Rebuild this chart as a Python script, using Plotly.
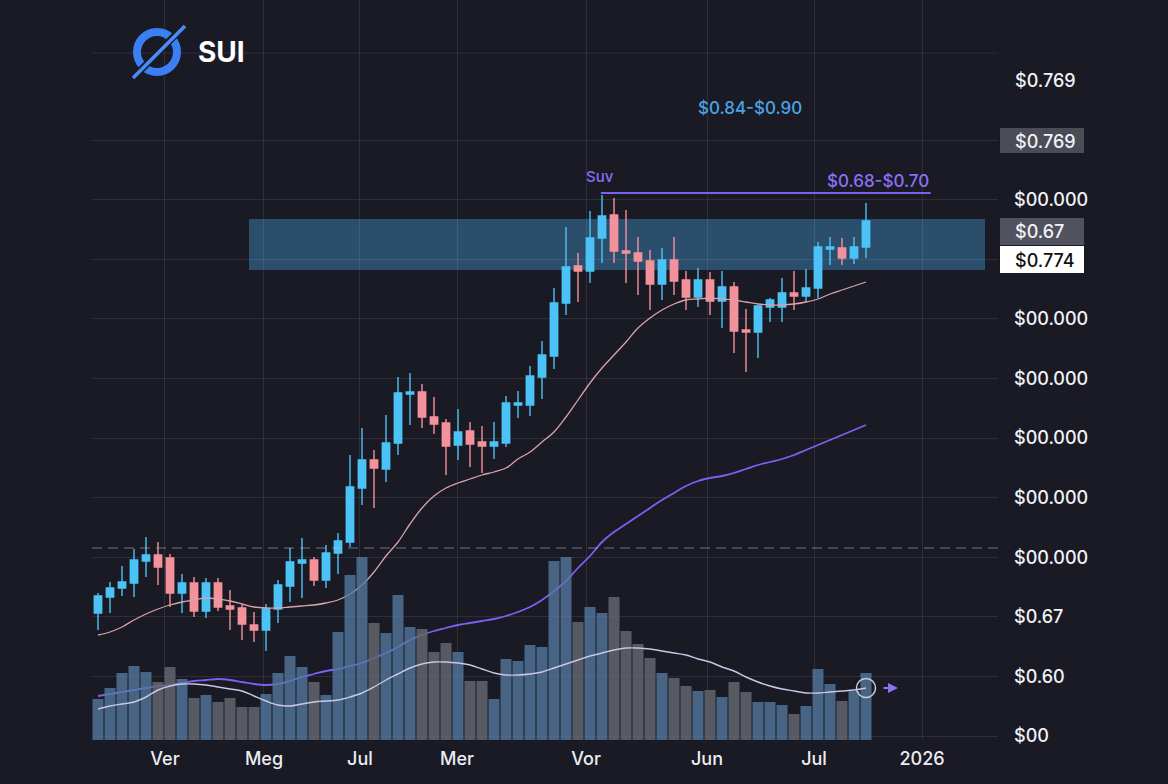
import plotly.graph_objects as go

# ---------------- data ----------------
open_ = [0.223,0.239,0.248,0.253,0.275,0.281,0.278,0.243,0.253,0.225,
         0.253,0.230,0.228,0.211,0.206,0.227,0.250,0.273,0.276,0.256,
         0.283,0.294,0.348,0.376,0.367,0.393,0.442,0.444,0.419,0.413,
         0.391,0.405,0.394,0.390,0.393,0.431,0.431,0.459,0.480,0.533,
         0.570,0.565,0.598,0.621,0.585,0.583,0.575,0.552,0.576,0.556,
         0.539,0.556,0.535,0.549,0.506,0.504,0.529,0.529,0.543,0.540,
         0.548,0.587,0.588,0.578,0.589]
high = [0.243,0.254,0.270,0.287,0.299,0.294,0.282,0.262,0.259,0.258,
        0.258,0.246,0.231,0.224,0.232,0.256,0.288,0.298,0.279,0.291,
        0.303,0.381,0.408,0.386,0.421,0.459,0.463,0.452,0.439,0.417,
        0.427,0.414,0.410,0.414,0.440,0.445,0.470,0.495,0.548,0.609,
        0.583,0.625,0.641,0.638,0.626,0.599,0.586,0.588,0.599,0.565,
        0.568,0.564,0.565,0.554,0.527,0.531,0.538,0.558,0.565,0.567,
        0.594,0.599,0.598,0.599,0.633]
low = [0.206,0.223,0.240,0.239,0.259,0.251,0.229,0.223,0.219,0.218,
       0.225,0.206,0.196,0.194,0.185,0.213,0.234,0.238,0.250,0.248,
       0.262,0.289,0.331,0.328,0.354,0.381,0.411,0.408,0.402,0.361,
       0.376,0.369,0.363,0.377,0.389,0.418,0.420,0.437,0.467,0.521,
       0.534,0.553,0.573,0.573,0.553,0.541,0.526,0.536,0.541,0.526,
       0.529,0.521,0.508,0.483,0.464,0.478,0.514,0.514,0.526,0.534,
       0.538,0.571,0.571,0.572,0.578]
close = [0.240,0.248,0.254,0.276,0.281,0.269,0.243,0.253,0.225,0.253,
         0.229,0.227,0.212,0.206,0.227,0.251,0.274,0.276,0.256,0.283,
         0.295,0.349,0.376,0.368,0.393,0.443,0.444,0.419,0.412,0.390,
         0.404,0.392,0.390,0.394,0.433,0.433,0.460,0.481,0.533,0.569,
         0.565,0.598,0.620,0.585,0.583,0.575,0.552,0.576,0.555,0.539,
         0.556,0.535,0.549,0.505,0.504,0.530,0.536,0.543,0.540,0.548,
         0.589,0.589,0.578,0.589,0.615]
volume = [4.1,5.2,6.7,7.4,6.8,5.8,7.3,6.1,4.2,4.5,
          3.8,4.2,3.3,3.3,4.6,6.7,8.4,7.3,5.8,4.5,
          10.8,16.5,18.3,11.7,10.7,14.5,11.3,11.1,8.8,9.7,
          8.8,5.9,5.9,4.1,8.1,7.9,9.5,9.3,17.9,18.3,
          11.8,13.3,12.7,14.3,10.9,9.6,8.2,6.7,6.2,5.4,
          4.9,5.0,4.3,5.8,4.8,3.8,3.8,3.5,2.6,3.4,
          7.1,5.6,3.9,4.9,6.7]
vol_ma = [3.1,3.4,3.6,3.8,4.3,5.0,5.4,5.6,5.6,5.5,
          5.3,5.1,4.9,4.4,3.9,3.5,3.4,3.6,3.8,3.9,
          4.0,4.3,4.7,5.3,6.0,6.6,7.2,7.6,7.8,7.8,
          7.7,7.5,7.1,6.7,6.5,6.5,6.6,6.8,7.2,7.6,
          8.0,8.4,8.7,9.0,9.2,9.2,9.1,8.9,8.7,8.5,
          8.1,7.8,7.3,6.9,6.3,5.8,5.4,5.1,4.9,4.7,
          4.7,4.8,4.9,5.0,5.2]
ma_slow = [0.140,0.142,0.144,0.146,0.148,0.150,0.151,0.153,0.155,0.156,
           0.157,0.156,0.154,0.152,0.151,0.152,0.155,0.159,0.162,0.165,
           0.167,0.170,0.173,0.178,0.183,0.189,0.196,0.201,0.205,0.208,
           0.211,0.213,0.215,0.217,0.220,0.224,0.229,0.236,0.245,0.255,
           0.268,0.280,0.294,0.304,0.312,0.320,0.328,0.336,0.343,0.350,
           0.355,0.358,0.360,0.363,0.367,0.371,0.374,0.377,0.381,0.386,
           0.391,0.396,0.401,0.406,0.411]
ma_fast = [0.201,0.204,0.209,0.216,0.222,0.227,0.231,0.234,0.236,0.238,
           0.237,0.235,0.232,0.229,0.228,0.228,0.229,0.230,0.231,0.233,
           0.236,0.242,0.251,0.264,0.280,0.294,0.312,0.328,0.340,0.348,
           0.353,0.357,0.361,0.364,0.368,0.377,0.384,0.394,0.404,0.419,
           0.436,0.453,0.468,0.481,0.494,0.508,0.518,0.526,0.532,0.536,
           0.537,0.538,0.537,0.536,0.534,0.532,0.531,0.531,0.532,0.534,
           0.537,0.542,0.546,0.550,0.554]

month_pos = [5.58, 13.83, 21.83, 29.92, 40.67, 50.75, 59.67, 68.67]
month_labels = ["Ver", "Meg", "Jul", "Mer", "Vor", "Jun", "Jul", "2026"]
price_ticktext = ["$00", "$0.60", "$0.67", "$00.000", "$00.000", "$00.000",
                  "$00.000", "$00.000", "", "$00.000", ""]
top_label = "$0.769"

zone_low, zone_high = 0.566, 0.617
resist_level = 0.643
dash_level = 0.288

x = list(range(len(open_)))

# ---------------- style ----------------
BG = "#191a24"
GRID = "rgba(255,255,255,0.09)"
UP = "#4cc3f6"
DOWN = "#f4929c"
VOL_UP = "rgba(84,122,160,0.78)"
VOL_DOWN = "rgba(100,102,110,0.85)"
PURPLE = "#7d60f2"
FONT = "Inter, Roboto, sans-serif"

PL, PR, PT, PB = 92, 998, 0, 740
W, H = 1168, 784


def fx(px):
    return (px - PL) / (PR - PL)


def fy(py):
    return (PB - py) / (PB - PT)


def pv(py):
    # price-axis value for a pixel row (used only for decorations)
    return 0.836 - py / 1000.0


fig = go.Figure()

vol_colors = [VOL_UP if c >= o else VOL_DOWN for o, c in zip(open_, close)]
fig.add_trace(go.Bar(x=x, y=volume, yaxis="y2", marker=dict(color=vol_colors, line=dict(width=0)),
                     showlegend=False, hoverinfo="skip"))
fig.add_trace(go.Scatter(x=x, y=vol_ma, yaxis="y2", mode="lines", line=dict(color="#c9c6e6", width=1.4, shape="spline"),
                         showlegend=False, hoverinfo="skip"))
fig.add_trace(go.Scatter(x=[x[-1]], y=[vol_ma[-1]], yaxis="y2", mode="markers",
                         marker=dict(symbol="circle-open", size=19, color="#c9c9d6", line=dict(width=1.5)),
                         showlegend=False, hoverinfo="skip"))
fig.add_trace(go.Scatter(x=x, y=ma_slow, mode="lines", line=dict(color=PURPLE, width=1.8, shape="spline"),
                         showlegend=False, hoverinfo="skip"))
fig.add_trace(go.Scatter(x=x, y=ma_fast, mode="lines", line=dict(color="#d9a3aa", width=1.3, shape="spline"),
                         showlegend=False, hoverinfo="skip"))
fig.add_trace(go.Candlestick(x=x, open=open_, high=high, low=low, close=close,
                             increasing=dict(line=dict(color=UP, width=1.4), fillcolor=UP),
                             decreasing=dict(line=dict(color=DOWN, width=1.4), fillcolor=DOWN),
                             whiskerwidth=0, showlegend=False, hoverinfo="skip"))

shapes = []
# blue resistance zone
shapes.append(dict(type="rect", xref="paper", yref="y", x0=fx(249), x1=fx(985), y0=zone_low, y1=zone_high,
                   fillcolor="rgba(70,150,212,0.42)", line=dict(width=0), layer="below"))
# purple level line
shapes.append(dict(type="line", xref="x", yref="y", x0=41.9, x1=69.4, y0=resist_level, y1=resist_level,
                   line=dict(color=PURPLE, width=2.2)))
# dashed line
shapes.append(dict(type="line", xref="paper", yref="y", x0=0, x1=1, y0=dash_level, y1=dash_level,
                   line=dict(color="rgba(200,200,210,0.35)", width=1.5, dash="10px,6px")))
# extra top grid line
shapes.append(dict(type="line", xref="paper", yref="y", x0=0, x1=1, y0=pv(53), y1=pv(53),
                   line=dict(color=GRID, width=1), layer="below"))
# right-side label boxes
shapes.append(dict(type="rect", xref="paper", yref="paper", x0=fx(1000), x1=fx(1084), y0=fy(153), y1=fy(128),
                   fillcolor="#4a4c58", line=dict(width=0)))
shapes.append(dict(type="rect", xref="paper", yref="paper", x0=fx(1000), x1=fx(1084), y0=fy(245), y1=fy(218),
                   fillcolor="#50535f", line=dict(width=0)))
shapes.append(dict(type="rect", xref="paper", yref="paper", x0=fx(1000), x1=fx(1084), y0=fy(273), y1=fy(246),
                   fillcolor="#ffffff", line=dict(width=0)))
# logo
shapes.append(dict(type="circle", xref="paper", yref="paper", x0=fx(137), x1=fx(177), y0=fy(72), y1=fy(32),
                   line=dict(color="#3a7ff4", width=8)))
shapes.append(dict(type="line", xref="paper", yref="paper", x0=fx(131), x1=fx(186), y0=fy(80), y1=fy(24),
                   line=dict(color=BG, width=7)))
shapes.append(dict(type="line", xref="paper", yref="paper", x0=fx(133), x1=fx(185), y0=fy(78), y1=fy(26),
                   line=dict(color="#4a8cf8", width=3.5)))

annotations = []


def ann(text, px, py, color="#f2f2f6", size=18, anchor="left", weight=500):
    annotations.append(dict(text=text, xref="paper", yref="paper",
                            x=fx(px), y=fy(py), xanchor=anchor, yanchor="middle", showarrow=False,
                            font=dict(family=FONT, size=size, color=color, weight=weight)))


ann("SUI", 196, 52, color="#ffffff", size=28, weight=700)
ann(top_label, 1013, 80)
ann("$0.769", 1013, 141)
ann("$0.67", 1013, 231)
ann("$0.774", 1013, 260, color="#111111")
ann("$0.84-$0.90", 750, 108, color="#4aa4e4", size=17, anchor="center")
ann("Suv", 600, 176, color="#8b6cf2", size=15, anchor="center")
ann("$0.68-$0.70", 878, 181, color="#8d70f4", size=17, anchor="center")
annotations.append(dict(text="", xref="paper", yref="paper", x=fx(898), y=fy(688), ax=-16, ay=0,
                        showarrow=True, arrowhead=2, arrowsize=1, arrowwidth=2, arrowcolor="#8d70f4"))

fig.update_layout(
    width=W, height=H,
    margin=dict(l=PL, r=W - PR, t=PT, b=H - PB),
    paper_bgcolor=BG, plot_bgcolor=BG,
    font=dict(family=FONT, color="#f2f2f6"),
    showlegend=False,
    bargap=0.08,
    boxgap=0.12,
    shapes=shapes,
    annotations=annotations,
    xaxis=dict(range=[-0.5, 75.0], tickvals=month_pos, ticktext=month_labels, showgrid=True,
               gridcolor=GRID, gridwidth=1, zeroline=False, showline=False, ticks="",
               tickfont=dict(size=18, color="#ececf2", weight=500), ticklabelstandoff=6,
               rangeslider=dict(visible=False), fixedrange=True),
    yaxis=dict(range=[pv(PB), pv(PT)], side="right", tickvals=[0.100 + 0.0596 * k for k in range(11)],
               ticktext=price_ticktext, showgrid=True, gridcolor=GRID, gridwidth=1, zeroline=False,
               showline=False, ticks="", tickfont=dict(size=18, color="#f2f2f6", weight=500),
               ticklabelstandoff=15),
    yaxis2=dict(range=[0, 74.0], overlaying="y", visible=False, showgrid=False),
)

fig.write_html("out.html")
